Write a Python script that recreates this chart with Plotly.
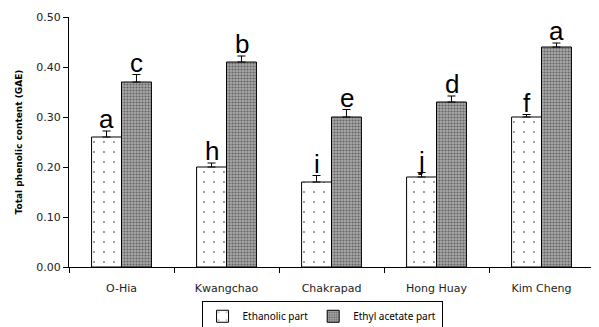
import plotly.graph_objects as go

categories = ["O-Hia", "Kwangchao", "Chakrapad", "Hong Huay", "Kim Cheng"]
ethanolic = [0.26, 0.20, 0.17, 0.18, 0.30]
ethanolic_err = [0.012, 0.008, 0.013, 0.009, 0.005]
ethanolic_letters = ["a", "h", "i", "j", "f"]
ethyl = [0.37, 0.41, 0.30, 0.33, 0.44]
ethyl_err = [0.015, 0.012, 0.015, 0.012, 0.008]
ethyl_letters = ["c", "b", "e", "d", "a"]
yticks = [0.0, 0.1, 0.2, 0.3, 0.4, 0.5]

fig = go.Figure()
fig.add_trace(go.Bar(
    name="Ethanolic part", x=categories, y=ethanolic,
    marker=dict(color="white", line=dict(color="black", width=1),
                pattern=dict(shape=".", fgcolor="black", bgcolor="white", size=10, solidity=0.03)),
    error_y=dict(type="data", array=ethanolic_err, arrayminus=[0]*5, symmetric=False,
                 color="black", thickness=1, width=4),
))
fig.add_trace(go.Bar(
    name="Ethyl acetate part", x=categories, y=ethyl,
    marker=dict(color="#7a7a7a", line=dict(color="black", width=1),
                pattern=dict(shape=".", fgcolor="#1e1e1e", bgcolor="#a8a8a8", size=3, solidity=0.4)),
    error_y=dict(type="data", array=ethyl_err, arrayminus=[0]*5, symmetric=False,
                 color="black", thickness=1, width=4),
))

annotations = []
for i, c in enumerate(categories):
    for vals, errs, letters, shift in [(ethanolic, ethanolic_err, ethanolic_letters, -15),
                                       (ethyl, ethyl_err, ethyl_letters, 15)]:
        annotations.append(dict(
            x=c, y=vals[i] + errs[i], text=letters[i], showarrow=False,
            xref="x", yref="y", xshift=shift, yanchor="bottom", yshift=-5,
            font=dict(family="Liberation Sans Narrow, Liberation Sans", size=26, color="black")))

# page body has an 8px default margin, so the figure is sized/placed to compensate
fig.update_layout(
    width=591, height=319,
    margin=dict(l=61, r=5, t=9, b=60, autoexpand=False),
    paper_bgcolor="white", plot_bgcolor="white",
    barmode="group", bargap=0.43, bargroupgap=0,
    font=dict(family="DejaVu Sans", size=11, color="#222"),
    showlegend=True,
    legend=dict(orientation="h", x=0.482, xanchor="center", y=-0.135, yanchor="top",
                bordercolor="black", borderwidth=1, bgcolor="white",
                font=dict(size=10, family="Noto Sans", color="black"), itemwidth=30,
                tracegroupgap=0),
    annotations=annotations,
)
fig.update_xaxes(showline=True, linecolor="black", linewidth=1, ticks="outside",
                 tickson="boundaries", ticklen=5, tickcolor="black", showgrid=False,
                 tickfont=dict(size=11), automargin=False, ticklabelstandoff=11)
fig.update_yaxes(range=[0, 0.5], tickvals=yticks, tickformat=".2f", showline=True,
                 linecolor="black", linewidth=1, ticks="outside", ticklen=5,
                 tickcolor="black", showgrid=False, zeroline=False, automargin=False,
                 title=dict(text="<b>Total phenolic content (GAE)</b>", font=dict(size=9, color="black"), standoff=12),
                 tickfont=dict(size=11))

fig.write_html("out.html")
